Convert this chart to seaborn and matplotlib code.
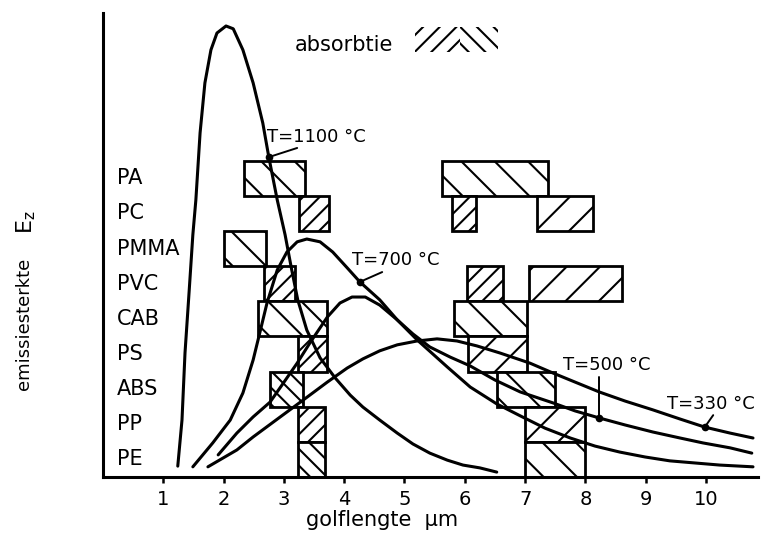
import numpy as np
import pandas as pd
import matplotlib
matplotlib.use('Agg')
import matplotlib.pyplot as plt
from matplotlib.patches import Rectangle
import seaborn as sns

# kunststoffen, van onder (PE) naar boven (PA)
polymers = ['PE', 'PP', 'ABS', 'PS', 'CAB', 'PVC', 'PMMA', 'PC', 'PA']

# absorptiebanden (golflengte in um)
band_polymer = ['PA', 'PA', 'PC', 'PC', 'PC', 'PMMA', 'PVC', 'PVC', 'PVC',
                'CAB', 'CAB', 'PS', 'PS', 'ABS', 'ABS', 'PP', 'PP', 'PE', 'PE']
band_start = [2.34, 5.62, 3.25, 5.79, 7.20, 2.01, 2.67, 6.04, 7.07,
              2.57, 5.82, 3.23, 6.05, 2.77, 6.53, 3.23, 7.00, 3.23, 7.00]
band_end = [3.35, 7.38, 3.75, 6.19, 8.13, 2.70, 3.18, 6.63, 8.61,
            3.72, 7.03, 3.72, 7.03, 3.32, 7.50, 3.68, 7.99, 3.68, 7.99]
# arceerrichting per band
band_hatch = ['\\', '\\', '/', '/', '/', '\\', '/', '/', '/',
              '\\', '\\', '/', '/', '\\', '\\', '/', '/', '\\', '\\']

wl_1100 = [1.24, 1.31, 1.36, 1.43, 1.49, 1.54, 1.61, 1.69, 1.79, 1.89, 2.04,
           2.16, 2.32, 2.49, 2.65, 2.75, 2.89, 3.02, 3.13, 3.23, 3.38, 3.60,
           3.85, 4.10, 4.31, 4.59, 4.88, 5.14, 5.42, 5.71, 5.97, 6.25, 6.53]
ez_1100 = [0.31, 1.62, 3.53, 5.32, 6.89, 7.88, 9.79, 11.21, 12.15, 12.63,
           12.83, 12.75, 12.15, 11.21, 10.07, 9.10, 7.88, 6.89, 5.89, 5.04,
           4.18, 3.39, 2.82, 2.33, 1.99, 1.62, 1.25, 0.94, 0.68, 0.48, 0.34,
           0.26, 0.14]

wl_700 = [1.49, 1.82, 2.11, 2.32, 2.49, 2.60, 2.72, 2.89, 3.05, 3.22, 3.38,
          3.60, 3.81, 4.05, 4.26, 4.59, 4.88, 5.21, 5.71, 6.09, 6.53, 6.92,
          7.33, 7.75, 8.16, 8.57, 8.99, 9.40, 10.23, 10.78]
ez_700 = [0.29, 0.97, 1.62, 2.39, 3.33, 4.10, 4.95, 5.89, 6.40, 6.69, 6.77,
          6.69, 6.40, 5.95, 5.55, 5.04, 4.47, 3.90, 3.13, 2.56, 2.08, 1.74,
          1.39, 1.11, 0.88, 0.71, 0.57, 0.46, 0.34, 0.29]

wl_500 = [1.91, 2.22, 2.49, 2.77, 2.99, 3.22, 3.43, 3.72, 3.93, 4.13, 4.35,
          4.59, 4.88, 5.14, 5.42, 5.76, 6.09, 6.50, 6.92, 7.46, 7.83, 8.23,
          8.66, 9.12, 9.57, 9.95, 10.40, 10.76]
ez_500 = [0.63, 1.25, 1.71, 2.13, 2.67, 3.24, 3.81, 4.55, 4.95, 5.12, 5.12,
          4.89, 4.47, 4.07, 3.70, 3.41, 3.16, 2.76, 2.42, 2.11, 1.88, 1.68,
          1.48, 1.28, 1.11, 0.97, 0.83, 0.68]

wl_330 = [1.74, 2.22, 2.49, 2.94, 3.32, 3.72, 4.05, 4.31, 4.59, 4.88, 5.21,
          5.54, 5.87, 6.20, 6.58, 7.08, 7.46, 7.83, 8.23, 8.66, 9.12, 9.57,
          9.98, 10.40, 10.78]
ez_330 = [0.29, 0.77, 1.14, 1.71, 2.19, 2.70, 3.10, 3.36, 3.59, 3.76, 3.87,
          3.93, 3.87, 3.73, 3.53, 3.24, 2.96, 2.70, 2.42, 2.16, 1.91, 1.65,
          1.42, 1.25, 1.11]

curve_labels = ['T=1100 °C', 'T=700 °C', 'T=500 °C', 'T=330 °C']

sns.set_theme(style='white')
plt.rcParams['font.family'] = ['DejaVu Sans']
plt.rcParams['hatch.linewidth'] = 1.5
plt.rcParams['mathtext.default'] = 'regular'
plt.rcParams['text.color'] = 'black'
plt.rcParams['axes.labelcolor'] = 'black'
plt.rcParams['xtick.color'] = 'black'

fig = plt.figure(figsize=(7.63, 5.34), dpi=100)
ax = fig.add_axes([0.135, 0.1067, 0.859, 0.869])

# absorptiebanden als horizontale balken
rows = [polymers.index(p) for p in band_polymer]
widths = [e - s for s, e in zip(band_start, band_end)]
for r, s, w, h in zip(rows, band_start, widths, band_hatch):
    hatch = h if w > 0.65 else h * 2
    ax.barh(r + 0.5, w, left=s, height=1.0, color='white', edgecolor='black',
            linewidth=2.0, hatch=hatch, zorder=2)

# krommen via seaborn
frames = []
for lab, wl, ez in zip(curve_labels, [wl_1100, wl_700, wl_500, wl_330],
                       [ez_1100, ez_700, ez_500, ez_330]):
    frames.append(pd.DataFrame({'golflengte': wl, 'Ez': ez, 'T': lab}))
df = pd.concat(frames, ignore_index=True)
sns.lineplot(data=df, x='golflengte', y='Ez', hue='T', units='T',
             palette=['black'] * 4, estimator=None, sort=False, legend=False,
             linewidth=2.2, ax=ax, zorder=3)
for line in ax.lines:
    line.set_solid_capstyle('round')
    line.set_solid_joinstyle('round')

# markeringen en labels bij de krommen
marker_idx = {'T=1100 °C': 15, 'T=700 °C': 14, 'T=500 °C': 21, 'T=330 °C': 22}
text_pos = {'T=1100 °C': (2.72, 9.67), 'T=700 °C': (4.13, 6.17),
            'T=500 °C': (7.63, 3.19), 'T=330 °C': (9.35, 2.08)}
lead_end = {'T=1100 °C': (3.22, 9.36), 'T=700 °C': (4.63, 5.83),
            'T=500 °C': (8.23, 2.85), 'T=330 °C': (10.12, 1.76)}
for lab in curve_labels:
    sub = df[df['T'] == lab]
    px, py = sub.iloc[marker_idx[lab]][['golflengte', 'Ez']]
    ax.plot([px], [py], 'o', color='black', ms=4.5, zorder=4)
    lx, ly = lead_end[lab]
    ax.plot([px, lx], [py, ly], color='black', lw=1.4, zorder=4)
    tx, ty = text_pos[lab]
    ax.text(tx, ty, lab, fontsize=13, ha='left', va='center', color='black')

# kunststofnamen
for i, p in enumerate(polymers):
    ax.text(0.23, i + 0.5, p, fontsize=15, ha='left', va='center', color='black')

# legenda absorptie
ax.text(3.18, 12.29, 'absorbtie', fontsize=15, ha='left', va='center')
ax.add_patch(Rectangle((5.17, 12.09), 0.75, 0.71, facecolor='none',
                       edgecolor='black', linewidth=0, hatch='//'))
ax.add_patch(Rectangle((5.92, 12.09), 0.63, 0.71, facecolor='none',
                       edgecolor='black', linewidth=0, hatch='\\\\'))

ax.set_xlim(0, 10.87)
ax.set_ylim(0, 13.2)
ax.set_xticks(range(1, 11))
ax.set_yticks([])
ax.tick_params(axis='x', direction='out', length=4, width=1.8, pad=5,
               labelsize=14, colors='black', bottom=True)
for side in ['top', 'right']:
    ax.spines[side].set_visible(False)
for side in ['left', 'bottom']:
    ax.spines[side].set_linewidth(2.2)
    ax.spines[side].set_color('black')

ax.set_xlabel('golflengte  µm', fontsize=15)
ax.xaxis.set_label_coords(0.426, -0.071)
ax.set_ylabel('')
fig.text(24 / 763, 1 - 324 / 534, 'emissiesterkte', rotation=90,
         fontsize=13, ha='center', va='center')
fig.text(26 / 763, 1 - 222 / 534, '$E_z$', rotation=90,
         fontsize=16, ha='center', va='center')

fig.savefig('out.png', dpi=100, facecolor='white')
